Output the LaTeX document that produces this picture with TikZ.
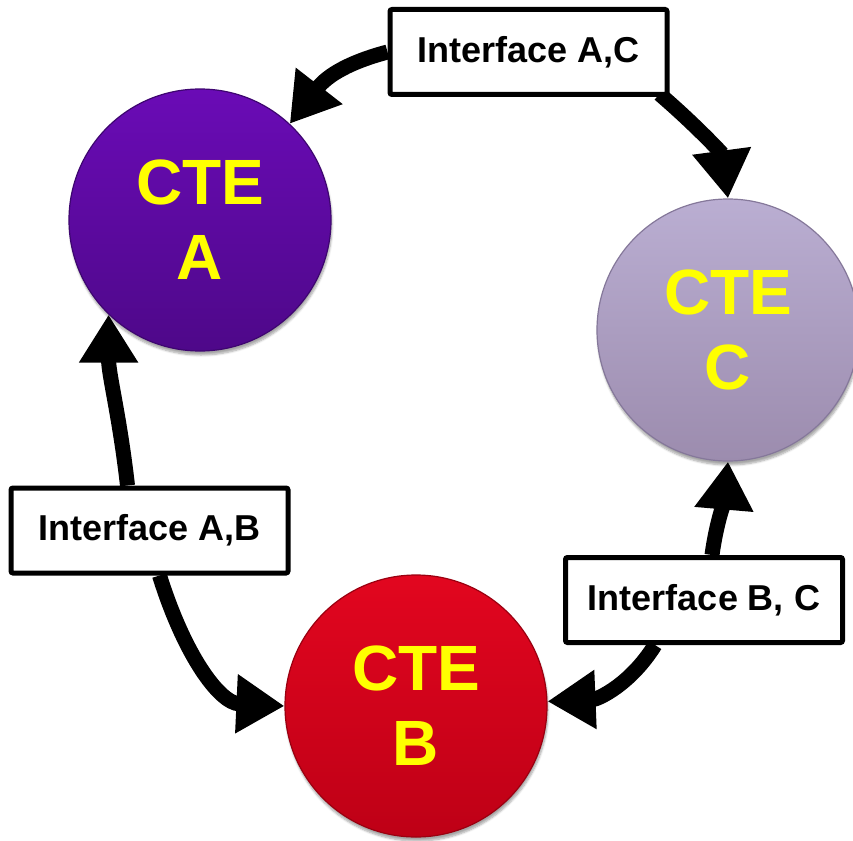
\documentclass[tikz,border=0pt]{standalone}
\usepackage{fontspec}
\setmainfont{Liberation Sans}
\usetikzlibrary{arrows.meta,shadows.blur,calc}
\definecolor{ctext}{HTML}{FFFF00}
\definecolor{aTop}{HTML}{6A0BB6}
\definecolor{aBot}{HTML}{4E0889}
\definecolor{aEdge}{HTML}{3E0670}
\definecolor{cTop}{HTML}{BAAED2}
\definecolor{cBot}{HTML}{9C8CAE}
\definecolor{cEdge}{HTML}{85789A}
\definecolor{bTop}{HTML}{E2061F}
\definecolor{bBot}{HTML}{BE0016}
\definecolor{bEdge}{HTML}{9A0010}
\pgfdeclarelayer{bg}
\pgfsetlayers{bg,main}
\begin{document}
\begin{tikzpicture}[x=1pt,y=-1pt,
  ctebase/.style={circle, minimum size=262pt, inner sep=0pt, line width=1.2pt,
    text=ctext, font=\bfseries\fontsize{64}{75}\selectfont, align=center,
    blur shadow={shadow xshift=1pt, shadow yshift=-4pt, shadow blur steps=6, shadow opacity=35}},
  ifbox/.style={draw=black, line width=5pt, fill=white, rounded corners=2pt,
    minimum width=277pt, minimum height=85pt, inner sep=0pt,
    font=\bfseries\fontsize{36}{40}\selectfont},
  conn/.style={line width=15pt, -{Triangle[length=48pt,width=56pt]}}]
\useasboundingbox (0,0) rectangle (853,840);

\node[ctebase, top color=aTop, bottom color=aBot, draw=aEdge] (A) at (200,220) {CTE\\A};
\node[ctebase, top color=cTop, bottom color=cBot, draw=cEdge] (C) at (728,330) {CTE\\C};
\node[ctebase, top color=bTop, bottom color=bBot, draw=bEdge] (B) at (416,706) {CTE\\B};

\node[ifbox] (ac) at (528.5,52) {Interface A,C};
\node[ifbox] (ab) at (149.5,530.5) {Interface A,B};
\node[ifbox] (bc) at (704,600) {Interface B, C};

\begin{pgfonlayer}{bg}
\draw[conn] (ac.west) .. controls +(-45,12) and +(35,-45) .. (A.47);
\draw[conn] ($(ac.south east)+(-10,-3)$) .. controls +(35,30) and +(-6,-45) .. (C.90);
\draw[conn] ($(ab.north)+(-22,0)$) .. controls +(-8,-70) and +(0,60) .. (A.226);
\draw[conn] ($(ab.south)+(10,0)$) .. controls +(25,80) and +(-65,-3) .. (B.180);
\draw[conn] ($(bc.north)+(8,0)$) .. controls +(4,-30) and +(-3,35) .. (C.270);
\draw[conn] ($(bc.south west)+(92,0)$) .. controls +(-25,40) and +(50,-2) .. (B.2);
\end{pgfonlayer}
\end{tikzpicture}
\end{document}
